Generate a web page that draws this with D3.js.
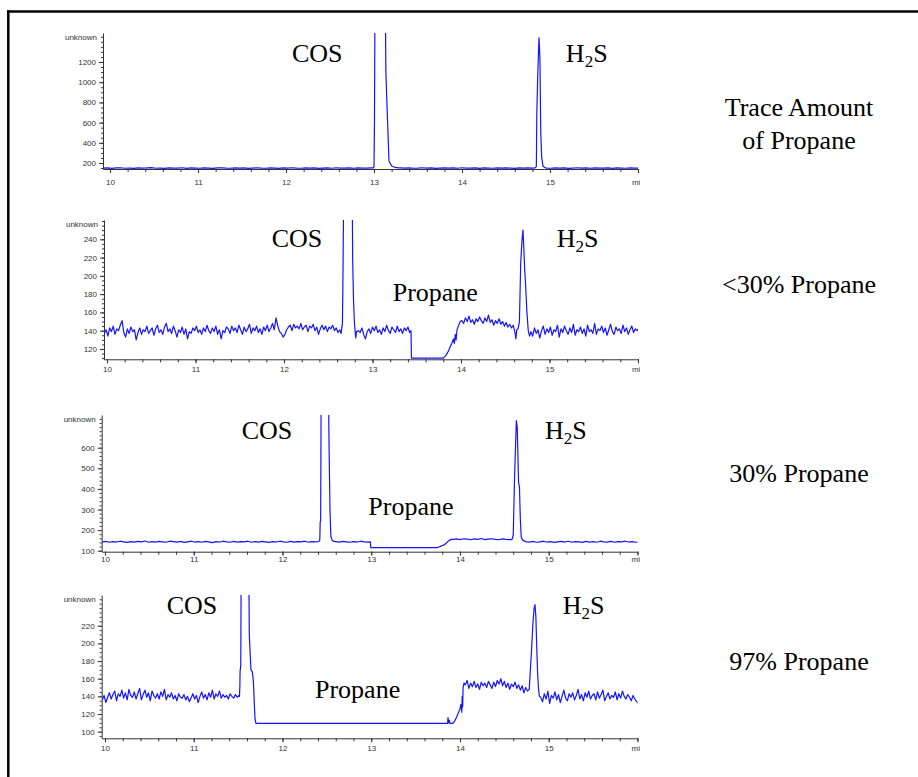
<!DOCTYPE html>
<html><head><meta charset="utf-8">
<script src="https://cdn.jsdelivr.net/npm/d3@7"></script>
<style>body{margin:0;background:#fff}svg{display:block}</style>
</head><body>
<svg id="c" width="918" height="777"></svg>
<script>
// ---------------- DATA ----------------
// x axis ticks (minutes) and their labels
const xTickValues = [10, 11, 12, 13, 14, 15, 16];
const xTickLabels = ["10", "11", "12", "13", "14", "15", "min"];
// y axis domains and major ticks per panel
const yDomains = [[140.6, 1487], [108.7, 261.1], [95.1, 758.7], [92.5, 254.8]];
const xDomains = [[9.92, 16], [9.966, 16], [9.963, 16], [9.963, 16]];
const yMajorTicks = [
  [200, 400, 600, 800, 1000, 1200],
  [120, 140, 160, 180, 200, 220, 240],
  [100, 200, 300, 400, 500, 600],
  [100, 120, 140, 160, 180, 200, 220]
];
const yMinorStep = [50, 5, 20, 5];
const yAxisTitle = "unknown";
const sideLabels = [["Trace Amount", "of Propane"], ["<30% Propane"], ["30% Propane"], ["97% Propane"]];
// peak annotations: [text, time, signal]
const annotations = [
  [["COS", 12.068, 1200], ["H2S", 15.18, 1200]],
  [["COS", 11.861, 231.6], ["H2S", 15.081, 231.6], ["Propane", 13.228, 172.5]],
  [["COS", 11.540, 640], ["H2S", 14.958, 640], ["Propane", 12.967, 273.3]],
  [["COS", 10.695, 233.3], ["H2S", 15.157, 233.3], ["Propane", 12.366, 137.8]]
];

// ---- Panel 1: trace amount of propane ----
const trBase1 = [149,152,147,151,153,148,150,146,152,149,151,154,148,150,147,152,150,149,153,147,
  151,150,148,152,149,146,151,153,150,148,152,149,151,147,150,153,149,148,152,150,
  147,151,149,153,150,148,151,149,152,147,150,151,148,153,149,150,152,148,151,149,150,152];
const trCOS = [[12.99,151],[13.0,165],[13.005,600],[13.01,1600],[13.13,1600],[13.135,1100],[13.14,960],
  [13.17,220],[13.2,170],[13.24,156],[13.28,152]];
const trBase2 = [151,149,152,148,150,153,149,151,147,150,152,149,151,148,153,150,149,152,147,151,
  150,148,152,149,151,150,147,152,149,151,150];
const trH2S = [[14.83,151],[14.845,165],[14.85,680],[14.86,1050],[14.875,1440],[14.885,1250],
  [14.895,500],[14.905,260],[14.92,170],[14.94,155]];
const trBase3 = [150,148,152,149,151,147,150,153,149,151,148,152,150,149,151,147,152,150,148,151,149,150];

// ---- Panel 2: <30% propane ----
const lt30Base1 = [137,141,134,143,139,145,136,142,140,146,
  151,138,133,142,137,144,139,141,130,138,
  143,136,141,139,145,137,140,143,135,142,
  146,138,141,136,144,148,139,142,137,145,
  140,133,141,138,144,136,142,131,139,137,
  143,140,145,138,141,136,143,139,146,140,
  137,143,139,145,136,141,131,140,138,144,
  142,137,145,140,143,138,146,141,136,144,
  139,142,147,137,143,140,145,138,142,136,
  144,140,146,139,143,148,141,154,145,139,
  137,133,136,141,144,146,140,147,143,145,
  142,148,141,144,146,139,145,143,147,140,
  144,136,142,146,141,145,139,144,142,146,
  140,143,138,141];
const lt30COS = [[12.645,137],[12.66,148],[12.665,185],[12.675,300],[12.77,300],[12.776,217],
  [12.785,175],[12.795,150],[12.81,132],[12.82,139]];
const lt30Base2 = [140,138,143,136,131,139,142,137,144,140,
  145,138,141,136,143,139,146,140,137,144,
  141,138,145,139,142,137,143,140,144,138];
const lt30Propane = [[13.435,140],[13.44,110],[13.80,110],[13.83,113],[13.86,118],[13.88,123],
  [13.9,127],[13.915,131],[13.925,126],[13.935,136],[13.945,130],[13.955,141],[13.97,145],[13.99,150]];
const lt30Base3 = [151,148,154,150,156,149,152,147,153,150,
  155,151,148,154,150,157,149,152,146,151,
  148,153,147,150,145,149,144,147,143,146];
const lt30H2S = [[14.61,138],[14.62,131],[14.63,141],[14.645,142],[14.66,150],[14.675,215],[14.69,240],
  [14.70,250],[14.71,230],[14.72,206],[14.73,190],[14.745,160],[14.76,140],[14.775,134]];
const lt30Base4 = [139,134,143,137,141,132,140,145,136,142,
  138,144,135,141,139,146,133,142,138,145,
  140,136,143,138,147,135,141,139,144,137,
  142,134,146,139,141,137,148,136,142,140,
  145,138,143,135,141,147,139,136,144,140,
  142,137,146,139,143,136,141,145,138,142,
  140,143];

// ---- Panel 3: 30% propane ----
const p30Base1 = [143,145,141,144,142,146,143,140,144,142,
  145,143,147,141,144,142,145,143,141,146,
  144,142,145,140,143,146,142,144,141,145,
  143,139,144,142,146,143,141,145,142,144,
  143,146,141,144,142,145,143,140,144,142,
  146,143,141,145,142,144,143,146,141,144,
  143];
const p30COS = [[12.40,144],[12.41,145],[12.42,150],[12.425,240],[12.43,245],[12.435,800],[12.52,800],
  [12.525,600],[12.535,300],[12.545,170],[12.56,150],[12.58,145]];
const p30Base2 = [144,142,145,143,141,144,142,146,143,142];
const p30Propane = [[12.99,143],[12.995,115],[13.745,115],[13.76,118],[13.78,121],[13.8,125],
  [13.82,128],[13.84,135],[13.86,143],[13.88,150],[13.9,155]];
const p30Base3 = [155,157,154,158,156,153,157,155,159,154,156,158,155,153,157,155,154];
const p30H2S = [[14.585,153],[14.6,175],[14.615,460],[14.635,731],[14.645,700],[14.66,430],
  [14.67,410],[14.68,250],[14.69,165],[14.71,150]];
const p30Base4 = [144,142,145,141,143,146,142,144,140,143,145,142,146,141,144,143,140,145,142,144,
  141,146,143,142,145,141,144,143,146,142,144,141,143];

// ---- Panel 4: 97% propane ----
const p97Base1 = [136,141,133,139,144,137,142,146,135,143,
  140,147,138,144,136,148,141,139,145,137,
  143,149,136,142,147,139,144,135,146,141,
  138,143,137,145,140,148,136,142,139,144,
  137,141,135,143,139,138,142,136,140,134,
  138,143,137,141,133,140,145,138,142,136,
  144,139,147,137,143,140,146,138,142,139,
  141,137,143,140,138,142,139,141];
const p97COS = [[11.515,140],[11.52,152],[11.522,168],[11.53,175],[11.535,300],[11.62,300],
  [11.626,209],[11.645,170],[11.66,168],[11.672,157],[11.69,115],[11.70,109.5]];
const p97Propane = [[13.86,109.5],[13.865,116],[13.87,110],[13.88,113],[13.885,109.5],[13.92,109.5],
  [13.94,112],[13.96,116],[13.98,121],[14.0,126],[14.01,131],[14.02,122],[14.025,140],[14.03,128],
  [14.035,150],[14.045,155]];
const p97Base2 = [153,158,149,155,151,157,150,154,148,156,
  152,155,150,157,153,149,156,151,158,154,
  160,152,157,150,155,148,154,151,156,149,
  153,147,152,144,150,146];
const p97H2S = [[14.78,148],[14.79,165],[14.805,190],[14.82,220],[14.835,240],[14.845,244],
  [14.855,230],[14.865,195],[14.875,165],[14.885,148],[14.895,140]];
const p97Base3 = [139,134,143,137,146,132,141,138,145,136,
  142,133,140,147,138,135,143,139,144,136,
  141,148,137,142,135,144,139,146,137,141,
  143,136,145,138,142,147,135,140,144,137,
  141,139,145,136,143,138,146,140,137,142,
  139,135,141,137,134,132];

// sampled baseline segment: values recorded at a fixed sampling interval from t0
function seg(t0, dt, vals) { return vals.map((v, i) => [+(t0 + i * dt).toFixed(4), v]); }

const series = [
  [...seg(9.92, 0.05, trBase1), ...trCOS, ...seg(13.3, 0.05, trBase2), ...trH2S, ...seg(14.96, 0.05, trBase3)],
  [...seg(9.97, 0.02, lt30Base1), ...lt30COS, ...seg(12.84, 0.02, lt30Base2), ...lt30Propane,
   ...seg(14.01, 0.02, lt30Base3), ...lt30H2S, ...seg(14.79, 0.02, lt30Base4)],
  [...seg(9.97, 0.04, p30Base1), ...p30COS, ...seg(12.6, 0.04, p30Base2), ...p30Propane,
   ...seg(13.92, 0.04, p30Base3), ...p30H2S, ...seg(14.74, 0.04, p30Base4)],
  [...seg(9.97, 0.02, p97Base1), ...p97COS, ...p97Propane, ...seg(14.06, 0.02, p97Base2),
   ...p97H2S, ...seg(14.91, 0.02, p97Base3)]
];

// ---------------- LAYOUT ----------------
const layout = [
  {top: 33, bottom: 169, left: 103, right: 638, labOff: 13, side: {x: 799, y: [116, 149]}},
  {top: 220, bottom: 359.3, left: 104, right: 638, labOff: 10, side: {x: 799, y: [293]}},
  {top: 415, bottom: 551.7, left: 101.7, right: 637.5, labOff: 8, side: {x: 799, y: [482]}},
  {top: 595, bottom: 738.3, left: 101.7, right: 637.5, labOff: 10, side: {x: 799, y: [670]}}
];

const svg = d3.select("#c");
// frame
svg.append("line").attr("x1", 7).attr("x2", 918).attr("y1", 11.5).attr("y2", 11.5)
  .attr("stroke", "#000").attr("stroke-width", 2.5);
svg.append("line").attr("x1", 8.3).attr("x2", 8.3).attr("y1", 10.5).attr("y2", 777)
  .attr("stroke", "#000").attr("stroke-width", 2.5);

const defs = svg.append("defs");
const axisColor = "#333";
const tickFont = "Liberation Sans, Arial, sans-serif";
const serif = "Liberation Serif, 'Times New Roman', serif";

layout.forEach((L, p) => {
  const x = d3.scaleLinear().domain(xDomains[p]).range([L.left, L.right]);
  const y = d3.scaleLinear().domain(yDomains[p]).range([L.bottom, L.top]);
  const g = svg.append("g");

  // clip for data line
  defs.append("clipPath").attr("id", "clip" + p).append("rect")
    .attr("x", L.left).attr("y", L.top).attr("width", L.right - L.left).attr("height", L.bottom - L.top);
  defs.append("clipPath").attr("id", "clipx" + p).append("rect")
    .attr("x", 0).attr("y", -20).attr("width", 640).attr("height", 60);

  // minor ticks
  const yMin = [];
  for (let v = Math.ceil(yDomains[p][0] / yMinorStep[p]) * yMinorStep[p]; v <= yDomains[p][1]; v += yMinorStep[p]) yMin.push(v);
  const yMinorAxis = d3.axisLeft(y).tickValues(yMin).tickSize(2).tickSizeOuter(0).tickFormat("");
  g.append("g").attr("transform", `translate(${L.left},0)`).call(yMinorAxis)
    .call(s => s.selectAll("line,path").attr("stroke", axisColor));

  const xMin = d3.range(100, 161, 2).map(d => d / 10);
  const xMinorAxis = d3.axisBottom(x).tickValues(xMin).tickSize(3).tickSizeOuter(0).tickFormat("");
  g.append("g").attr("transform", `translate(0,${L.bottom})`).call(xMinorAxis)
    .call(s => s.selectAll("line,path").attr("stroke", axisColor));

  // major y axis
  const yAxis = d3.axisLeft(y).tickValues(yMajorTicks[p]).tickSize(4).tickSizeOuter(0).tickPadding(3)
    .tickFormat(d3.format("d"));
  const ya = g.append("g").attr("transform", `translate(${L.left},0)`).call(yAxis);
  ya.select(".domain").remove();
  ya.selectAll("line").attr("stroke", axisColor);
  ya.selectAll("text").attr("font-family", tickFont).attr("font-size", 8).attr("fill", "#333");

  // major x axis (clipped at the right edge, like the cut-off "min" unit)
  const xAxis = d3.axisBottom(x).tickValues(xTickValues).tickSize(4).tickSizeOuter(0)
    .tickFormat((d, i) => xTickLabels[i]);
  const xa = g.append("g").attr("transform", `translate(0,${L.bottom})`)
    .attr("clip-path", "url(#clipx" + p + ")").call(xAxis);
  xa.select(".domain").remove();
  xa.selectAll("line").attr("stroke", axisColor);
  xa.selectAll("text").attr("y", L.labOff).attr("dy", "0.35em")
    .attr("font-family", tickFont).attr("font-size", 8).attr("fill", "#333");

  // y-axis title
  g.append("text").attr("x", L.left - 6).attr("y", L.top + 4).attr("dy", "0.35em")
    .attr("text-anchor", "end").attr("font-family", tickFont).attr("font-size", 8).attr("fill", "#333")
    .text(yAxisTitle);

  // data line
  const line = d3.line().x(d => x(d[0])).y(d => y(d[1]));
  g.append("path").datum(series[p]).attr("d", line)
    .attr("fill", "none").attr("stroke", "#1414ff").attr("stroke-width", 1.2)
    .attr("stroke-linejoin", "round").attr("clip-path", "url(#clip" + p + ")");

  // peak annotations
  annotations[p].forEach(([txt, t, v]) => {
    const tx = g.append("text").attr("x", x(t)).attr("y", y(v))
      .attr("font-family", serif).attr("font-size", 26).attr("fill", "#000");
    if (txt === "H2S") {
      tx.append("tspan").text("H");
      tx.append("tspan").attr("font-size", 17).attr("dy", 5).text("2");
      tx.append("tspan").attr("dy", -5).text("S");
    } else tx.text(txt);
  });

  // side label
  sideLabels[p].forEach((s, i) => {
    g.append("text").attr("x", L.side.x).attr("y", L.side.y[i]).attr("text-anchor", "middle")
      .attr("font-family", serif).attr("font-size", 26).attr("fill", "#000").text(s);
  });
});
</script>
</body></html>
